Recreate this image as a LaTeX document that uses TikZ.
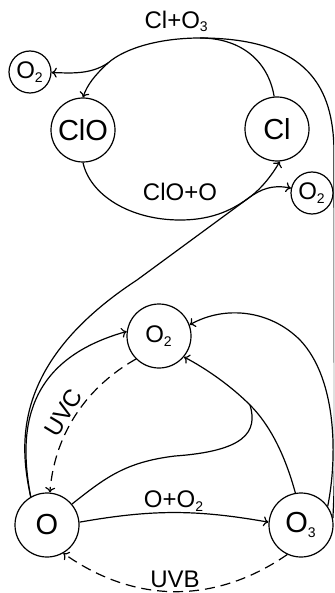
\documentclass[tikz,border=0pt]{standalone}
\usepackage{fontspec}
\setmainfont{Liberation Sans}
\usetikzlibrary{arrows.meta}

\newcommand{\chemsub}[1]{\textsubscript{\fontsize{7}{8}\selectfont #1}}

\begin{document}
\begin{tikzpicture}[x=0.5pt, y=-0.5pt, >={To[length=2.6pt, width=5pt]}, line width=0.6pt,
	species/.style={circle, draw, minimum size=32pt, inner sep=0pt, font=\fontsize{14.5}{17}\selectfont},
	product/.style={circle, draw, minimum size=21pt, inner sep=0pt, font=\fontsize{12}{14}\selectfont},
	uv/.style={dashed, dash pattern=on 5pt off 3pt, ->},
	rate/.style={font=\fontsize{12}{14}\selectfont}]
	\useasboundingbox (0,0) rectangle (334,593);
	\clip (0,0) rectangle (334,593);

	\node[species] (ClO) at (83,130) {ClO};
	\node[species] (Cl) at (277,129) {Cl};
	\node[product] (O2a) at (30,72) {O\chemsub{2}};
	\node[product] (O2b) at (312,193) {O\chemsub{2}};
	\node[species, font=\fontsize{12}{14}\selectfont] (O2) at (159,336) {O\chemsub{2}};
	\node[species] (O) at (47,525) {O};
	\node[species] (O3) at (301,525) {O\chemsub{3}};

	\coordinate (top) at (200,38);
	\coordinate (splitA) at (108,63);
	\coordinate (splitB) at (250,197);
	\coordinate (splitC) at (250,405);

	% chlorine cycle
	\draw[->] (Cl.95) .. controls (268,60) and (240,38) .. (top)
		.. controls (160,38) and (125,48) .. node[rate, pos=0.2, above] {Cl+O\chemsub{3}} (splitA)
		.. controls (95,75) and (87,85) .. (ClO.north);
	\draw[->] (splitA) .. controls (90,75) and (70,73) .. (O2a);
	\draw[->] (ClO.south) .. controls (90,195) and (130,220) .. (180,220) node[rate, above=6pt] {ClO+O}
		.. controls (215,220) and (235,208) .. (splitB)
		.. controls (262,188) and (272,175) .. (Cl.275);
	\draw[->] (splitB) .. controls (260,190) and (272,184) .. (O2b);
	\draw (O3.12) .. controls (334,495) .. (334.5,460) -- (334,150)
		.. controls (333,90) and (310,38) .. (top);

	% oxygen cycle
	\draw (O.120) .. controls (18,440) and (15,360) .. (137,280) -- (splitB);
	\draw[->] (O.120) .. controls (18,430) and (25,360) .. (O2.172);
	\draw[uv] (O2.225) .. controls (90,385) and (55,430) .. node[rate, sloped, pos=0.55, above=-2pt] {UVC} (O.85);
	\draw[->] (O.5) to[bend left=10] node[rate, above=-3pt] {O+O\chemsub{2}} (O3.175);
	\draw[uv] (O3.245) to[bend left=35] node[rate, above=-1.5pt] {UVB} (O.-60);
	\draw (O.40) .. controls (105,478) and (125,462) .. (175,456)
		.. controls (245,451) and (258,432) .. (splitC);
	\draw[->] (O3.100) .. controls (285,455) and (270,425) .. (splitC)
		.. controls (230,385) and (205,368) .. (O2.-40);
	\draw[->] (O3.35) .. controls (337,460) and (338,380) .. (300,340)
		.. controls (270,310) and (225,305) .. (O2.20);
\end{tikzpicture}
\end{document}
